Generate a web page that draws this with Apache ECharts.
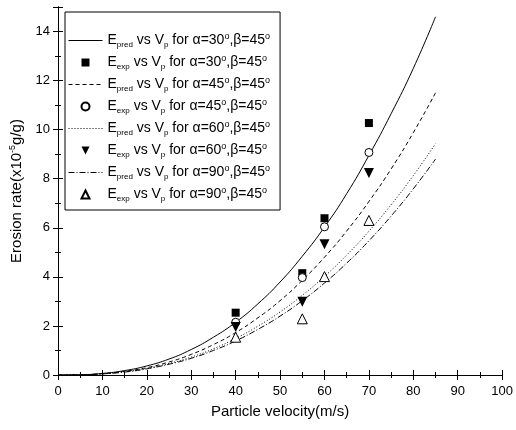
<!DOCTYPE html>
<html>
<head>
<meta charset="utf-8">
<script src="https://cdn.jsdelivr.net/npm/echarts@6/dist/echarts.min.js"></script>
<style>html,body{margin:0;padding:0;background:#fff;}#c{width:516px;height:430px;}</style>
</head>
<body>
<div id="c"></div>
<script>
// Curve sample velocities (m/s)
const curveX = [0, 5, 10, 15, 20, 25, 30, 35, 40, 45, 50, 55, 60, 65, 70, 75, 80, 85];
// Predicted erosion rate curves (x10^-5 g/g)
const pred30 = [0, 0.011, 0.064, 0.18, 0.37, 0.65, 1.04, 1.54, 2.15, 2.90, 3.79, 4.84, 6.03, 7.39, 8.95, 10.65, 12.5, 14.6];
const pred45 = [0, 0.009, 0.053, 0.15, 0.30, 0.53, 0.84, 1.24, 1.73, 2.33, 3.03, 3.86, 4.80, 5.87, 7.07, 8.40, 9.88, 11.5];
const pred60 = [0, 0.009, 0.050, 0.13, 0.27, 0.47, 0.73, 1.07, 1.49, 1.99, 2.57, 3.25, 4.02, 4.89, 5.86, 6.94, 8.13, 9.43];
const pred90 = [0, 0.008, 0.047, 0.12, 0.25, 0.44, 0.68, 1.00, 1.39, 1.86, 2.40, 3.03, 3.75, 4.56, 5.47, 6.48, 7.59, 8.80];
// Experimental points
const expX = [40, 55, 60, 70];
const exp30 = [2.54, 4.15, 6.39, 10.27];
const exp45 = [2.15, 3.97, 6.04, 9.07];
const exp60 = [1.96, 2.99, 5.33, 8.23];
const exp90 = [1.54, 2.29, 4.01, 6.30];
// Axis ticks
const xTicks = {min: 0, max: 100, interval: 10};
const yTicks = {min: 0, max: 15, interval: 2};

const pairs = (xs, ys) => xs.map((x, i) => [x, ys[i]]);
const labels = {
  p30: ['pred', '30'], e30: ['exp', '30'],
  p45: ['pred', '45'], e45: ['exp', '45'],
  p60: ['pred', '60'], e60: ['exp', '60'],
  p90: ['pred', '90'], e90: ['exp', '90']
};
const FONT = 'Liberation Sans, Arial, sans-serif';

function lineSeries(name, data, type) {
  return {
    name, type: 'line', data: pairs(curveX, data), smooth: true, symbol: 'none',
    itemStyle: {color: 'rgba(0,0,0,0)'},
    lineStyle: {color: '#000', width: 1, type: type}, silent: true, z: 2
  };
}
function expSeries(name, data, symbol, fill, rotate, size) {
  return {
    name, type: 'line', data: pairs(expX, data), symbol, symbolSize: size, symbolRotate: rotate || 0,
    showSymbol: true, showAllSymbol: true,
    lineStyle: {width: 0, opacity: 0},
    itemStyle: {color: fill, borderColor: '#000', borderWidth: fill === '#fff' ? 1 : 0, opacity: 1}, z: 3
  };
}

const chart = echarts.init(document.getElementById('c'), null, {renderer: 'canvas'});
const axisCommon = {
  axisLine: {show: true, lineStyle: {color: '#000', width: 1}},
  axisTick: {show: true, inside: true, length: 5, lineStyle: {color: '#000'}},
  minorTick: {show: true, splitNumber: 2, length: 3, lineStyle: {color: '#000'}},
  splitLine: {show: false}
};
chart.setOption({
  backgroundColor: '#fff',
  animation: false,
  textStyle: {fontFamily: FONT},
  grid: {left: 58, right: 12, top: 7, bottom: 55},
  legend: {
    orient: 'vertical', left: 65, top: 12, itemWidth: 34, itemHeight: 10, itemGap: 5,
    padding: [20, 10, 7, 3], borderColor: '#000', borderWidth: 1,
    lineStyle: {width: 1},
    data: ['p30', 'e30', 'p45', 'e45', 'p60', 'e60', 'p90', 'e90'],
    formatter: n => {
      const l = labels[n];
      return `{n|E}{s|${l[0]}}{n| vs V}{s|p}{n| for α=${l[1]}}{u|o}{n|,β=45}{u|o}`;
    },
    textStyle: {
      color: '#000', fontFamily: FONT,
      rich: {
        n: {fontSize: 14, color: '#000', fontFamily: FONT},
        s: {fontSize: 8, color: '#000', padding: [9, 0, 0, 0], fontFamily: FONT},
        u: {fontSize: 9, color: '#000', padding: [0, 0, 8, 0], fontFamily: FONT}
      }
    }
  },
  xAxis: [
    Object.assign({type: 'value', min: xTicks.min, max: xTicks.max, interval: xTicks.interval,
      name: 'Particle velocity(m/s)', nameLocation: 'middle', nameGap: 29,
      nameTextStyle: {fontSize: 15, color: '#000', fontFamily: FONT},
      axisLabel: {color: '#000', fontSize: 13, margin: 10, fontFamily: FONT}}, axisCommon),
    Object.assign({type: 'value', position: 'top', min: xTicks.min, max: xTicks.max, interval: xTicks.interval,
      axisLabel: {show: false}}, axisCommon)
  ],
  yAxis: [
    Object.assign({type: 'value', min: yTicks.min, max: yTicks.max, interval: yTicks.interval,
      name: '{n|Erosion rate(x10}{u|-5}{n|g/g)}', nameLocation: 'middle', nameGap: 31,
      nameTextStyle: {color: '#000', rich: {
        n: {fontSize: 15, color: '#000', fontFamily: FONT},
        u: {fontSize: 9, color: '#000', padding: [0, 0, 9, 0], fontFamily: FONT}}},
      axisLabel: {color: '#000', fontSize: 13, margin: 8, showMaxLabel: false, fontFamily: FONT}}, axisCommon),
    Object.assign({type: 'value', position: 'right', min: yTicks.min, max: yTicks.max, interval: yTicks.interval,
      axisLabel: {show: false}}, axisCommon)
  ],
  series: [
    lineSeries('p30', pred30, 'solid'),
    expSeries('e30', exp30, 'rect', '#000', 0, 8),
    lineSeries('p45', pred45, [4, 3]),
    expSeries('e45', exp45, 'circle', '#fff', 0, 8),
    lineSeries('p60', pred60, [1, 2]),
    expSeries('e60', exp60, 'triangle', '#000', 180, 10),
    lineSeries('p90', pred90, [6, 2, 1, 2]),
    expSeries('e90', exp90, 'triangle', '#fff', 0, 10)
  ]
});
</script>
</body>
</html>
